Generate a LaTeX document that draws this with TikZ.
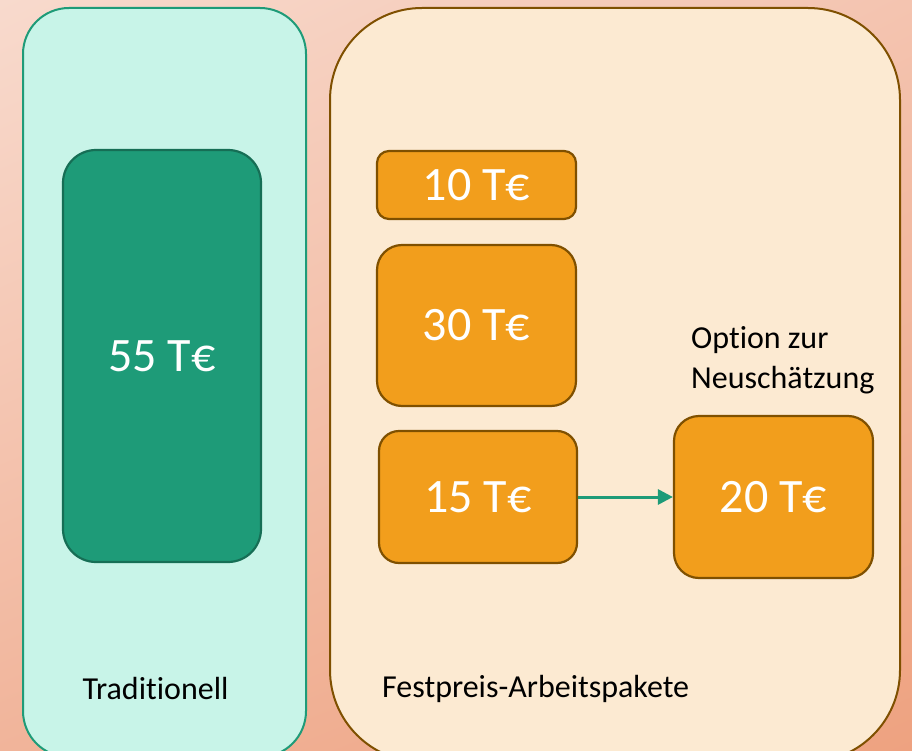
\documentclass[tikz,border=0pt]{standalone}
\usepackage{fontspec}
\setmainfont{Carlito}[Ligatures=NoCommon]
\usetikzlibrary{arrows.meta,shadings}

\definecolor{bgTL}{RGB}{248,218,205}
\definecolor{bgTR}{RGB}{244,196,176}
\definecolor{bgBL}{RGB}{241,180,154}
\definecolor{bgBR}{RGB}{238,162,128}
\definecolor{mintfill}{RGB}{200,244,232}
\definecolor{tealline}{RGB}{30,155,120}
\definecolor{tealfill}{RGB}{30,155,120}
\definecolor{tealdark}{RGB}{22,110,85}
\definecolor{creamfill}{RGB}{252,234,210}
\definecolor{brownline}{RGB}{127,80,0}
\definecolor{orangefill}{RGB}{242,158,28}

\tikzset{
  panel/.style={draw, line width=2pt, inner sep=0pt},
  tradpanel/.style={panel, fill=mintfill, draw=tealline, rounded corners=46pt},
  fixpanel/.style={panel, fill=creamfill, draw=brownline, rounded corners=92pt},
  pkg/.style={draw=brownline, fill=orangefill, line width=2.2pt, inner sep=0pt,
    text=white, font=\fontsize{48}{58}\selectfont},
  bigpkg/.style={draw=tealdark, fill=tealfill, line width=2.2pt, inner sep=0pt,
    text=white, font=\fontsize{48}{58}\selectfont, rounded corners=33pt},
  caption/.style={text=black, inner sep=0pt, font=\fontsize{32}{40}\selectfont},
  flow/.style={draw=tealline, line width=3pt, -{Triangle[length=15pt,width=15pt]}}
}

\begin{document}
\begin{tikzpicture}[x=1pt,y=-1pt]
  % background with diagonal colour gradient
  \shade[upper left=bgTL, upper right=bgTR, lower left=bgBL, lower right=bgBR]
    (0,0) rectangle (912,751);
  \useasboundingbox (0,0) rectangle (912,751);

  \begin{scope}
    \clip (0,0) rectangle (912,751);
    % the two columns
    \node[tradpanel, minimum width=283pt, minimum height=749pt] (trad) at (164.5,382.5) {};
    \node[fixpanel, minimum width=570pt, minimum height=754pt] (fix) at (615,385) {};
  \end{scope}

  % traditional budget
  \node[bigpkg, minimum width=198pt, minimum height=412pt] (b55) at (162,356) {55 T€};

  % fixed-price work packages
  \node[pkg, rounded corners=12pt, minimum width=199pt, minimum height=68pt] (p10) at (476.5,185) {10 T€};
  \node[pkg, rounded corners=25pt, minimum width=199pt, minimum height=161pt] (p30) at (476.5,325.5) {30 T€};
  \node[pkg, rounded corners=20pt, minimum width=198pt, minimum height=132pt] (p15) at (478,497) {15 T€};
  \node[pkg, rounded corners=25pt, minimum width=199pt, minimum height=162pt] (p20) at (773.5,497) {20 T€};

  \draw[flow] (p15.east) -- (p20.west);

  % labels
  \node[caption, align=left, anchor=west] (opt) at (691,360) {Option zur\\Neuschätzung};
  \node[caption] (ltrad) at (155.5,689) {Traditionell};
  \node[caption, anchor=west] (lfix) at (382,689) {Festpreis-Arbeitspakete};
\end{tikzpicture}
\end{document}
